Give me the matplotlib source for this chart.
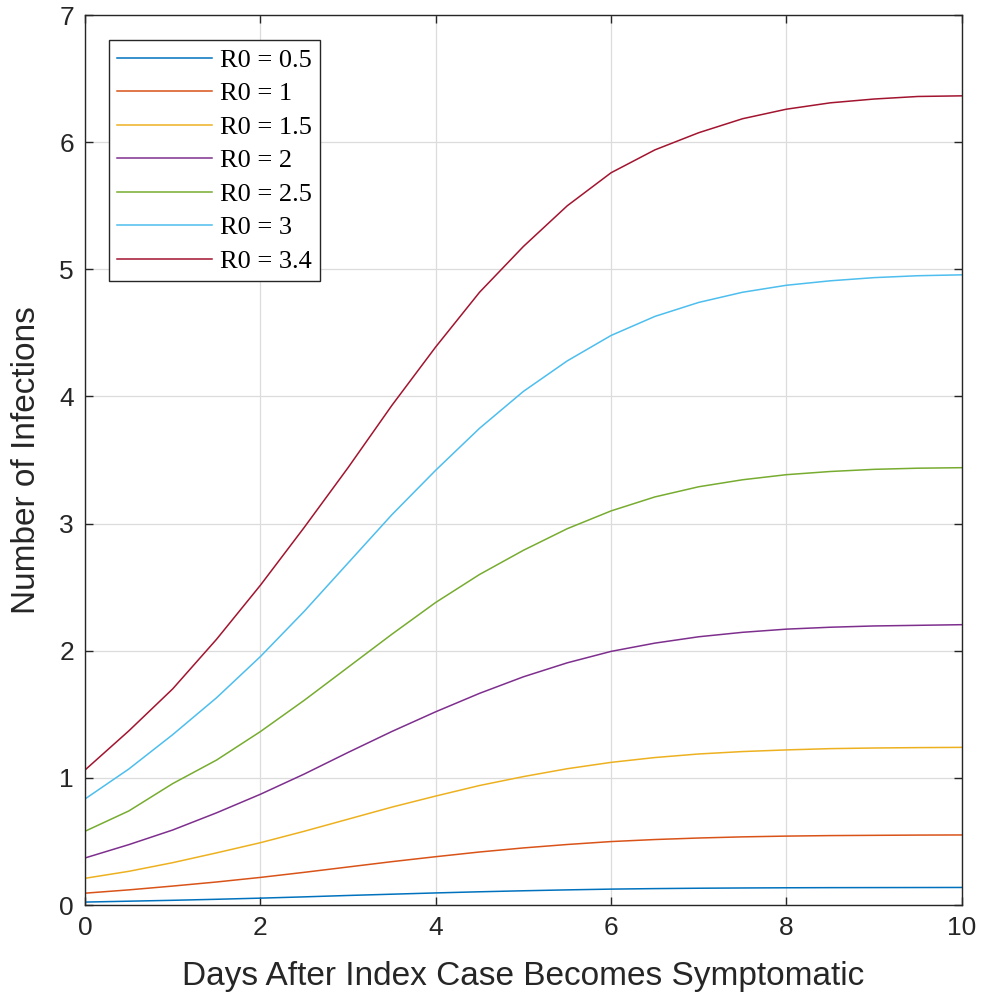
import matplotlib
matplotlib.use("Agg")
import matplotlib.pyplot as plt
import numpy as np

# days after symptom onset (half-day steps)
days = [0, 0.5, 1, 1.5, 2, 2.5, 3, 3.5, 4, 4.5, 5, 5.5, 6, 6.5, 7, 7.5, 8, 8.5, 9, 9.5, 10]

# infections, one list per R0
r0_labels = ["R0 = 0.5", "R0 = 1", "R0 = 1.5", "R0 = 2", "R0 = 2.5", "R0 = 3", "R0 = 3.4"]
inf_05 = [0.023, 0.030, 0.037, 0.045, 0.054, 0.064, 0.075, 0.085, 0.095, 0.104, 0.112,
          0.119, 0.125, 0.129, 0.132, 0.134, 0.1355, 0.1365, 0.137, 0.1375, 0.138]
inf_10 = [0.093, 0.119, 0.149, 0.181, 0.217, 0.257, 0.299, 0.341, 0.380, 0.417, 0.449,
          0.476, 0.499, 0.515, 0.527, 0.536, 0.542, 0.546, 0.548, 0.550, 0.551]
inf_15 = [0.21, 0.265, 0.333, 0.41, 0.49, 0.58, 0.675, 0.77, 0.857, 0.94, 1.01,
          1.072, 1.122, 1.16, 1.188, 1.207, 1.22, 1.23, 1.235, 1.238, 1.24]
inf_20 = [0.37, 0.475, 0.59, 0.725, 0.871, 1.03, 1.2, 1.365, 1.52, 1.665, 1.795,
          1.905, 1.995, 2.06, 2.11, 2.145, 2.17, 2.185, 2.195, 2.2, 2.205]
inf_25 = [0.58, 0.74, 0.955, 1.14, 1.364, 1.61, 1.87, 2.13, 2.38, 2.6, 2.79,
          2.96, 3.10, 3.21, 3.29, 3.345, 3.385, 3.41, 3.427, 3.436, 3.44]
inf_30 = [0.834, 1.07, 1.34, 1.63, 1.954, 2.31, 2.69, 3.07, 3.42, 3.75, 4.04,
          4.28, 4.48, 4.63, 4.74, 4.82, 4.875, 4.91, 4.935, 4.95, 4.957]
inf_34 = [1.062, 1.37, 1.70, 2.09, 2.515, 2.97, 3.44, 3.93, 4.39, 4.82, 5.18,
          5.50, 5.76, 5.94, 6.075, 6.185, 6.26, 6.31, 6.34, 6.36, 6.365]

series = [inf_05, inf_10, inf_15, inf_20, inf_25, inf_30, inf_34]
# matlab default line colours
colors = ["#0072BD", "#D95319", "#EDB120", "#7E2F8E", "#77AC30", "#4DBEEE", "#A2142F"]

axcol = "#262626"
plt.rcParams['font.family'] = ['Liberation Sans', 'DejaVu Sans']

fig = plt.figure(figsize=(9.84, 10.01), dpi=100)
ax = fig.add_axes([0.0864, 0.0959, 0.891, 0.889])

for vals, c, lab in zip(series, colors, r0_labels):
    ax.plot(days, vals, color=c, lw=1.1, label=lab)

ax.set_xlim(0, 10)
ax.set_ylim(0, 7)
ax.set_xticks(np.arange(0, 11, 2))
ax.set_yticks(np.arange(0, 8, 1))
ax.grid(True, color="#dcdcdc", lw=0.9)
ax.set_axisbelow(True)

ax.tick_params(direction='in', length=6, width=1, colors=axcol, labelsize=19,
               top=True, right=True, pad=8)
for sp in ax.spines.values():
    sp.set_color(axcol)
    sp.set_linewidth(1.0)

ax.set_xlabel("Days After Index Case Becomes Symptomatic", fontsize=24, color=axcol, labelpad=15)
ax.set_ylabel("Number of Infections", fontsize=24, color=axcol, labelpad=12)

leg = ax.legend(loc='upper left', bbox_to_anchor=(0.027, 0.972), borderaxespad=0,
                prop={'family': 'Liberation Serif', 'size': 19}, fancybox=False,
                edgecolor=axcol, framealpha=1, handlelength=3.6, handletextpad=0.3,
                labelspacing=0.38, borderpad=0.32)
leg.get_frame().set_linewidth(1.0)

plt.savefig("out.png", dpi=100)
